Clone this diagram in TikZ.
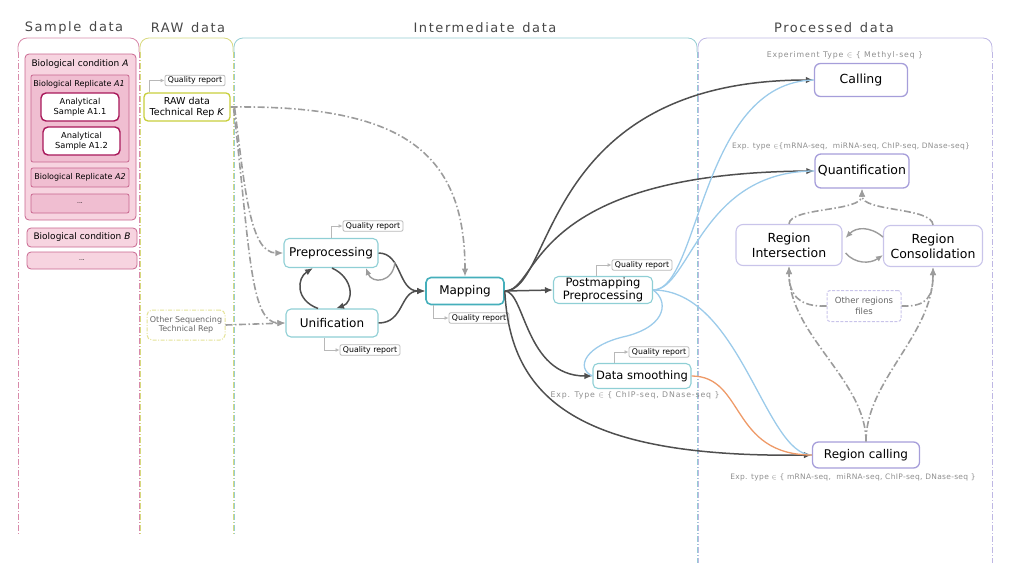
\documentclass[tikz,border=0pt]{standalone}
\usepackage{fontspec}
\setmainfont{DejaVu Sans}
\usetikzlibrary{arrows.meta,positioning}
\definecolor{darkln}{HTML}{4F4F4F}
\definecolor{grayln}{HTML}{9C9C9C}
\definecolor{qrgray}{HTML}{B8B8B8}
\definecolor{tealbd}{HTML}{8FCFD5}
\definecolor{tealdk}{HTML}{45AFBB}
\definecolor{lavbd}{HTML}{A69EDA}
\definecolor{lavlt}{HTML}{C9C4EA}
\definecolor{pinkbd}{HTML}{C8668F}
\definecolor{pinkfill}{HTML}{F7D4E0}
\definecolor{pinkfilldk}{HTML}{F0BED1}
\definecolor{crimson}{HTML}{A8185A}
\definecolor{rawbd}{HTML}{C8CF3C}
\definecolor{rawlt}{HTML}{E4E296}
\definecolor{blueln}{HTML}{9CCBEA}
\definecolor{orangeln}{HTML}{EE9A68}
\definecolor{lblgray}{HTML}{8E8E8E}
\definecolor{headgray}{HTML}{474747}
\definecolor{sampcol}{HTML}{D88AAA}
\definecolor{rawcol}{HTML}{D8D97E}
\definecolor{intcol}{HTML}{94CDD3}
\definecolor{proccol}{HTML}{BEB7E4}
\tikzset{
  head/.style={text=headgray, font=\fontsize{13}{15}\selectfont\addfontfeature{LetterSpace=12}},
  colframe/.style={line width=0.8pt, rounded corners=9pt},
  colside/.style={line width=0.5pt, dash pattern=on 6pt off 2pt on 1pt off 2pt},
  condbox/.style={draw=pinkbd, line width=0.8pt, fill=pinkfill, rounded corners=4pt, inner sep=1pt},
  repbox/.style={draw=pinkbd, line width=0.8pt, fill=pinkfilldk, rounded corners=2pt, inner sep=1pt, font=\fontsize{8}{9.5}\selectfont},
  asbox/.style={draw=crimson, line width=1.4pt, fill=white, rounded corners=5pt, align=center, inner sep=1pt, font=\fontsize{8.3}{9.8}\selectfont},
  sampfont/.style={font=\fontsize{9}{10.5}\selectfont},
  repfont/.style={font=\fontsize{8}{9.5}\selectfont},
  rawbox/.style={draw=rawbd, line width=1.3pt, fill=white, rounded corners=4pt, align=center, inner sep=1pt, font=\fontsize{9.5}{11}\selectfont},
  otherbox/.style={draw=rawlt, line width=1pt, dash pattern=on 4pt off 1.5pt on 1pt off 1.5pt, rounded corners=5pt, align=center, inner sep=1pt, text=black!60, font=\fontsize{8}{9.5}\selectfont},
  tealnode/.style={draw=tealbd, line width=1.1pt, fill=white, rounded corners=5pt, align=center, inner sep=1pt, font=\fontsize{12}{13.5}\selectfont},
  mapnode/.style={tealnode, draw=tealdk, line width=1.6pt},
  procnode/.style={draw=lavbd, line width=1.3pt, fill=white, rounded corners=6pt, align=center, inner sep=1pt, font=\fontsize{12.5}{14}\selectfont},
  regnode/.style={draw=lavlt, line width=1.1pt, fill=white, rounded corners=7pt, align=center, inner sep=1pt, font=\fontsize{12.5}{15}\selectfont},
  orfbox/.style={draw=lavlt, line width=1pt, dash pattern=on 3pt off 1.5pt, rounded corners=3pt, align=center, inner sep=1pt, text=black!60, font=\fontsize{8.5}{10.5}\selectfont},
  qrnode/.style={draw=qrgray, line width=0.8pt, fill=white, rounded corners=2pt, inner xsep=3pt, inner ysep=1.5pt, font=\fontsize{7.8}{9}\selectfont},
  exptxt/.style={text=lblgray, font=\fontsize{7.5}{9}\selectfont\addfontfeature{LetterSpace=4}},
  wideexp/.style={text=lblgray, font=\fontsize{7.8}{9}\selectfont\addfontfeature{LetterSpace=11}},
  darkarr/.style={draw=darkln, line width=1.5pt, -{Latex[length=8pt,width=6.5pt]}},
  ddarr/.style={draw=grayln, line width=1.6pt, dash pattern=on 7pt off 2.5pt on 1.5pt off 2.5pt, -{Latex[length=8pt,width=6.5pt]}},
  loopln/.style={draw=grayln, line width=1.4pt, -{Latex[length=7pt,width=6pt]}},
  bluln/.style={draw=blueln, line width=1.3pt},
  oraln/.style={draw=orangeln, line width=1.3pt},
  qrline/.style={draw=qrgray, line width=0.9pt, -{Latex[length=4pt,width=4pt]}},
}
\begin{document}
\begin{tikzpicture}[x=1pt, y=-1pt]
  \useasboundingbox (0,0) rectangle (1024,565);

  % column frames
  \draw[colframe, sampcol] (18,52) -- (18,38) -- (139,38) -- (139,52);
  \draw[colside, sampcol] (18,52) -- (18,535) (139,52) -- (139,535);
  \draw[colframe, rawcol] (140,52) -- (140,38) -- (233,38) -- (233,52);
  \draw[colside, rawcol] (140,52) -- (140,535) (233,52) -- (233,535);
  \draw[colframe, intcol] (234,52) -- (234,38) -- (697,38) -- (697,52);
  \draw[colside, intcol] (234,52) -- (234,535) (697,52) -- (697,563);
  \draw[colframe, proccol] (698,52) -- (698,38) -- (992,38) -- (992,52);
  \draw[colside, proccol] (698,52) -- (698,563) (992,52) -- (992,563);

  \node[head] (hsamp) at (74,28) {Sample\hspace{0.6em}data};
  \node[head] (hraw) at (188,28) {RAW\hspace{0.6em}data};
  \node[head] (hint) at (485,28) {Intermediate\hspace{0.6em}data};
  \node[head] (hproc) at (834,28) {Processed\hspace{0.6em}data};

  % sample data
  \node[condbox, minimum width=111pt, minimum height=166pt] (condA) at (80.5,137) {};
  \node[sampfont] (condAlbl) at (80,64) {Biological condition \textit{A}};
  \node[repbox, minimum width=98pt, minimum height=87pt] (repA1) at (80,118.5) {};
  \node[repfont] (repA1lbl) at (79,84) {Biological Replicate \textit{A1}};
  \node[asbox, minimum width=78pt, minimum height=28pt] (asA11) at (80,107) {Analytical\\Sample A1.1};
  \node[asbox, minimum width=77pt, minimum height=28pt] (asA12) at (81.5,141) {Analytical\\Sample A1.2};
  \node[repbox, minimum width=98pt, minimum height=19pt] (repA2) at (80,177.5) {Biological Replicate \textit{A2}};
  \node[repbox, minimum width=98pt, minimum height=19pt, font=\fontsize{6}{7}\selectfont] (repdots) at (80,203.5) {...};
  \node[condbox, sampfont, minimum width=110pt, minimum height=19pt] (condB) at (82,237.5) {Biological condition \textit{B}};
  \node[condbox, minimum width=110pt, minimum height=17pt, font=\fontsize{6}{7}\selectfont] (conddots) at (82,260.5) {...};

  % raw data
  \node[rawbox, minimum width=86pt, minimum height=28pt] (raw) at (187,107) {RAW data\\Technical Rep \textit{K}};
  \node[qrnode] (qrraw) at (195,80.5) {Quality report};
  \node[otherbox, minimum width=78pt, minimum height=30pt] (other) at (186,325) {Other Sequencing\\Technical Rep};

  % intermediate data
  \node[tealnode, minimum width=94pt, minimum height=29pt] (prep) at (331,253) {Preprocessing};
  \node[tealnode, minimum width=92pt, minimum height=28pt] (unif) at (332,323) {Unification};
  \node[mapnode, minimum width=78pt, minimum height=27pt] (map) at (465,291) {Mapping};
  \node[tealnode, minimum width=99pt, minimum height=27pt, font=\fontsize{11.5}{12.5}\selectfont] (post) at (603,290) {Postmapping\\Preprocessing};
  \node[tealnode, minimum width=98pt, minimum height=25pt, font=\fontsize{11.5}{13}\selectfont] (smooth) at (642,376) {Data smoothing};
  \node[wideexp] (expsmooth) at (635,395) {Exp. Type $\in$ \{ ChIP-seq, DNase-seq \}};
  \node[qrnode] (qrprep) at (373,226) {Quality report};
  \node[qrnode] (qrunif) at (370,350) {Quality report};
  \node[qrnode] (qrmap) at (479,318) {Quality report};
  \node[qrnode] (qrpost) at (642,265) {Quality report};
  \node[qrnode] (qrsmooth) at (659,352) {Quality report};

  % processed data
  \node[procnode, minimum width=93pt, minimum height=33pt] (calling) at (861,80) {Calling};
  \node[wideexp] (expcall) at (845,55) {Experiment Type $\in$ \{ Methyl-seq \}};
  \node[procnode, minimum width=94pt, minimum height=34pt] (quant) at (862,171) {Quantification};
  \node[exptxt] (expquant) at (851,146) {Exp. type $\in$\{mRNA-seq,\ \ miRNA-seq, ChIP-seq, DNase-seq\}};
  \node[regnode, minimum width=106pt, minimum height=41pt] (ri) at (789,245) {Region\\Intersection};
  \node[regnode, minimum width=99pt, minimum height=41pt] (rc) at (933,246) {Region\\Consolidation};
  \node[orfbox, minimum width=74pt, minimum height=31pt] (orf) at (864,306) {Other regions\\files};
  \node[procnode, minimum width=107pt, minimum height=26pt, font=\fontsize{12}{14}\selectfont] (rcall) at (866,455) {Region calling};
  \node[exptxt] (exprcall) at (853,477) {Exp. type $\in$ \{ mRNA-seq,\ \ miRNA-seq, ChIP-seq, DNase-seq \}};

  % quality report links
  \draw[qrline] ([xshift=-38pt]raw.north) |- (qrraw.west);
  \draw[qrline] (prep.north) |- (qrprep.west);
  \draw[qrline] ([xshift=-8pt]unif.south) |- (qrunif.west);
  \draw[qrline] ([xshift=-32pt]map.south) |- (qrmap.west);
  \draw[qrline] ([xshift=-7pt]post.north) |- (qrpost.west);
  \draw[qrline] ([xshift=-28pt]smooth.north) |- (qrsmooth.west);

  % raw inputs
  \draw[ddarr] (raw.east) .. controls (400,105) and (465,150) .. (map.north);
  \draw[ddarr] ([xshift=4pt,yshift=-1pt]raw.east) .. controls (245,190) and (250,253) .. (prep.west);
  \draw[ddarr] ([xshift=3pt,yshift=-2pt]raw.east) .. controls (250,250) and (250,323) .. (unif.west);
  \draw[ddarr] (other.east) -- (unif.west);

  % preprocessing / unification
  \draw[darkarr] ([xshift=-14pt]unif.north) .. controls (295,300) and (297,278) .. ([xshift=-18pt]prep.south);
  \draw[darkarr] ([xshift=1pt]prep.south) .. controls (354,278) and (354,302) .. ([xshift=4pt]unif.north);
  \draw[darkarr] (prep.east) .. controls (402,253) and (398,291) .. (map.west);
  \draw[darkarr] (unif.east) .. controls (404,323) and (400,291) .. (map.west);
  \coordinate (pfork) at (395,262);
  \draw[loopln] (pfork) .. controls (393,283) and (372,284) .. ([xshift=35pt]prep.south);

  % from mapping
  \draw[darkarr] (map.east) -- (post.west);
  \draw[darkarr] (map.east) .. controls (555,291) and (540,80) .. (calling.west);
  \draw[darkarr] (map.east) .. controls (540,291) and (525,173) .. (quant.west);
  \draw[darkarr] (map.east) .. controls (525,291) and (525,376) .. (smooth.west);
  \draw[darkarr] (map.east) .. controls (510,400) and (580,458) .. (rcall.west);

  % from postmapping
  \draw[bluln] (post.east) .. controls (700,290) and (700,82) .. (calling.west);
  \draw[bluln] (post.east) .. controls (690,290) and (700,171) .. (quant.west);
  \draw[bluln] (post.east) .. controls (740,290) and (765,455) .. (rcall.west);
  \draw[bluln] (post.east) .. controls (668,300) and (668,325) .. (627,336) .. controls (585,345) and (575,368) .. (smooth.west);
  \draw[oraln] (smooth.east) .. controls (745,376) and (730,455) .. (rcall.west);

  % regions
  \draw[ddarr] (rcall.north) .. controls (866,380) and (789,335) .. (ri.south);
  \draw[ddarr] (rcall.north) .. controls (866,380) and (933,335) .. (rc.south);
  \draw[ddarr] (orf.west) .. controls (800,307) and (789,296) .. (ri.south);
  \draw[ddarr] (orf.east) .. controls (928,307) and (933,296) .. (rc.south);
  \draw[ddarr] (ri.north) .. controls (790,207) and (862,212) .. (quant.south);
  \draw[ddarr] (rc.north) .. controls (932,207) and (862,212) .. (quant.south);
  \draw[loopln] ([yshift=9pt]rc.west) .. controls (870,226) and (856,227) .. ([xshift=3pt,yshift=7pt]ri.east);
  \draw[loopln] ([xshift=3pt,yshift=-8pt]ri.east) .. controls (855,264) and (870,264) .. ([yshift=-9pt]rc.west);
\end{tikzpicture}
\end{document}
